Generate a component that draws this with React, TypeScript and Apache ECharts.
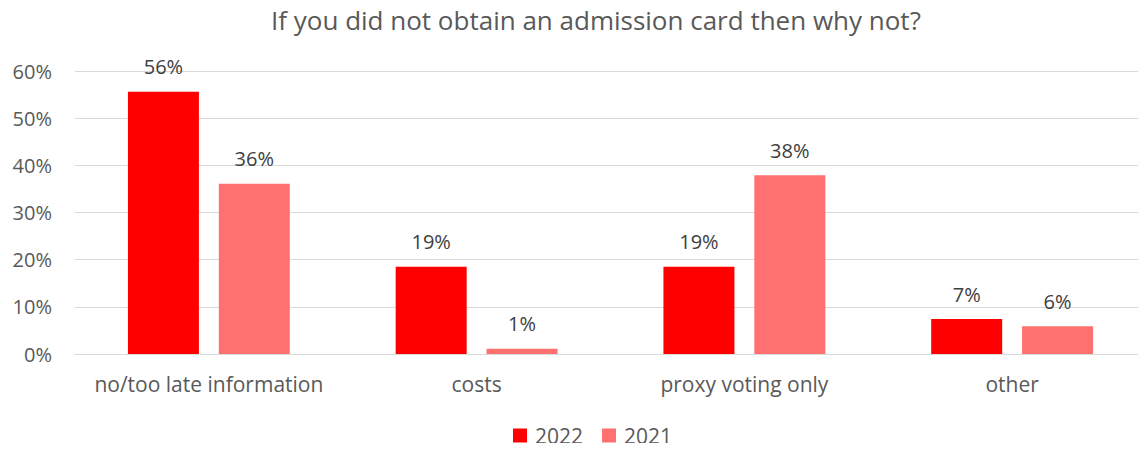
import React, { useEffect, useRef } from "react";
import * as echarts from "echarts";

const categories = ["no/too late information", "costs", "proxy voting only", "other"];
const values2022 = [55.6, 18.5, 18.5, 7.4];
const values2021 = [36.1, 1.1, 37.9, 5.9];
const yTicks = [0, 10, 20, 30, 40, 50, 60];

const FONT = "'Open Sans', sans-serif";
const GRAY = "#595959";

export default function App() {
  const ref = useRef<HTMLDivElement>(null);
  useEffect(() => {
    const chart = echarts.init(ref.current!, null, { renderer: "svg" });
    const label = {
      show: true,
      position: "top",
      distance: 15,
      color: "#404040",
      fontSize: 20,
      fontFamily: FONT,
      formatter: (p: any) => Math.round(p.value) + "%",
    };
    chart.setOption({
      animation: false,
      title: {
        text: "If you did not obtain an admission card then why not?",
        left: 266,
        top: 2,
        textStyle: { color: GRAY, fontSize: 26, fontWeight: "normal", fontFamily: FONT },
      },
      legend: {
        bottom: 0,
        left: 508,
        itemWidth: 14,
        itemHeight: 14,
        itemGap: 19,
        icon: "rect",
        textStyle: { color: GRAY, fontSize: 21, fontFamily: FONT, padding: [0, 0, 0, 3] },
        data: ["2022", "2021"],
      },
      grid: { left: 75, right: 0, top: 71, bottom: 97, containLabel: false },
      xAxis: {
        type: "category",
        data: categories,
        axisLine: { show: true, lineStyle: { color: "#d9d9d9", width: 1 } },
        axisTick: { show: false },
        axisLabel: { color: GRAY, fontSize: 21, fontFamily: FONT, margin: 19, interval: 0 },
      },
      yAxis: {
        type: "value",
        min: yTicks[0],
        max: yTicks[yTicks.length - 1],
        interval: 10,
        axisLine: { show: false },
        axisTick: { show: false },
        splitLine: { lineStyle: { color: "#d9d9d9", width: 1 } },
        axisLabel: {
          color: GRAY,
          fontSize: 20,
          fontFamily: FONT,
          margin: 23,
          formatter: (v: number) => v + "%",
        },
      },
      series: [
        {
          name: "2022",
          type: "bar",
          data: values2022,
          barWidth: 71,
          barGap: "28%",
          itemStyle: { color: "#FF0000" },
          label,
        },
        {
          name: "2021",
          type: "bar",
          data: values2021,
          barWidth: 71,
          barGap: "28%",
          itemStyle: { color: "#FF7171" },
          label,
        },
      ],
    });
    return () => chart.dispose();
  }, []);
  return <div ref={ref} style={{ width: 1146, height: 451, margin: -8 }} />;
}
